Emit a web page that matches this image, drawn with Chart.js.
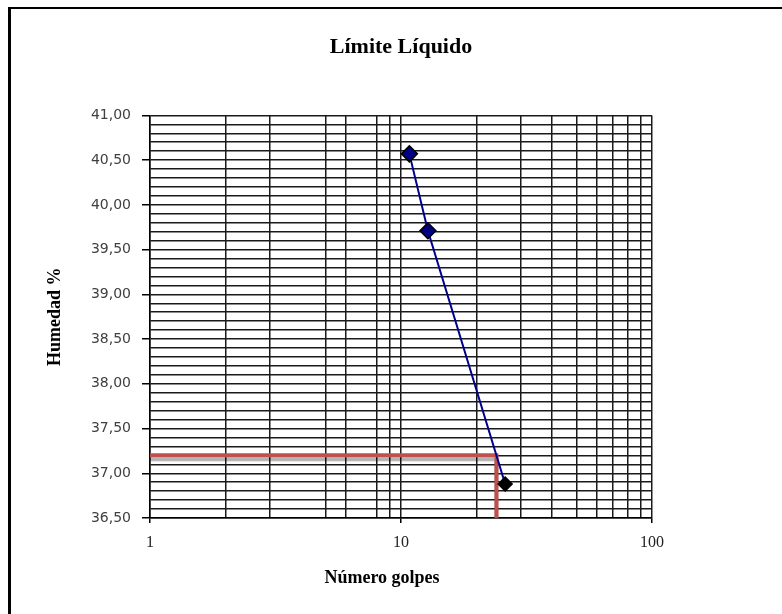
<!DOCTYPE html>
<html>
<head>
<meta charset="utf-8">
<script src="https://cdn.jsdelivr.net/npm/chart.js"></script>
<style>
  body { margin: 0; background: #fff; }
  #wrap { position: relative; width: 782px; height: 614px; overflow: hidden; }
  #frame { position: absolute; left: 8px; top: 7px; width: 900px; height: 700px; border-left: 3px solid #000; border-top: 2px solid #000; }
  canvas { position: absolute; left: 0; top: 0; }
</style>
</head>
<body>
<div id="wrap">
  <div id="frame"></div>
  <canvas id="myChart" width="782" height="614"></canvas>
</div>
<script>
// ensayo de limite liquido
const golpes = [10.8, 12.8, 26]
const humedad = [40.57, 39.71, 36.88]
const golpesLimite = 24
const humedadLimite = 37.2

const xTicks = [1, 2, 3, 5, 6, 8, 9, 10, 20, 30, 40, 50, 60, 70, 80, 90, 100]
const xLabels = [1, 10, 100]
const yLabels = [36.5, 37, 37.5, 38, 38.5, 39, 39.5, 40, 40.5, 41]
const yMinorStep = 0.1
const xTitle = 'Número golpes'

// sombra gris de la linea roja
const lineShadow = {
    id: 'lineShadow',
    beforeDatasetDraw(chart, args) {
        if (args.index !== 1) return
        const ctx = chart.ctx
        ctx.save()
        ctx.shadowColor = 'rgba(0,0,0,0.3)'
        ctx.shadowOffsetY = 4
        ctx.shadowBlur = 1
    },
    afterDatasetDraw(chart, args) {
        if (args.index === 1) chart.ctx.restore()
    }
}

// titulo del eje x, un poco a la izquierda como en excel
const xTitlePlugin = {
    id: 'xTitlePlugin',
    afterDraw(chart) {
        const { ctx, chartArea } = chart
        ctx.save()
        ctx.font = 'bold 18px "Liberation Serif"'
        ctx.fillStyle = '#000'
        ctx.textAlign = 'center'
        ctx.textBaseline = 'middle'
        ctx.fillText(xTitle, (chartArea.left + chartArea.right) / 2 - 19, chartArea.bottom + 60)
        ctx.restore()
    }
}

Chart.defaults.font.family = 'Liberation Serif'
Chart.defaults.color = '#000'

const ctx = document.getElementById('myChart')

new Chart(ctx, {
    type: 'scatter',
    data: {
        datasets: [{
            label: 'Humedad',
            data: golpes.map((g, i) => ({ x: g, y: humedad[i] })),
            showLine: true,
            borderColor: '#00008b',
            borderWidth: 2,
            pointStyle: 'rectRot',
            pointRadius: [8, 8, 7],
            pointBackgroundColor: ['#000080', '#000080', '#000'],
            pointBorderColor: '#000',
            pointBorderWidth: 1.5
        }, {
            label: 'Limite',
            data: [
                { x: xLabels[0], y: humedadLimite },
                { x: golpesLimite, y: humedadLimite },
                { x: golpesLimite, y: yLabels[0] }
            ],
            showLine: true,
            borderColor: '#c0504d',
            borderWidth: 4,
            pointRadius: 0
        }]
    },
    options: {
        responsive: false,
        animation: false,
        layout: { padding: { left: 0, right: 130, top: 0, bottom: 0 } },
        plugins: {
            legend: { display: false },
            tooltip: { enabled: false },
            title: {
                display: true,
                text: 'Límite Líquido',
                fullSize: false,
                font: { size: 22, weight: 'bold' },
                padding: { top: 34, bottom: 55 }
            }
        },
        scales: {
            x: {
                type: 'logarithmic',
                min: 1,
                max: 100,
                afterBuildTicks: scale => { scale.ticks = xTicks.map(v => ({ value: v })) },
                afterFit: scale => { scale.height = 96 },
                ticks: {
                    autoSkip: false,
                    maxRotation: 0,
                    padding: 10,
                    font: { size: 16 },
                    color: '#222',
                    callback: v => xLabels.includes(v) ? String(v) : ''
                },
                grid: {
                    color: '#1a1a1a',
                    lineWidth: 1.5,
                    tickLength: 5,
                    tickColor: c => c.tick && xLabels.includes(c.tick.value) ? '#000' : 'rgba(0,0,0,0)'
                },
                border: { color: '#000', width: 1.5 }
            },
            y: {
                min: yLabels[0],
                max: yLabels[yLabels.length - 1],
                afterBuildTicks: scale => {
                    const ticks = []
                    for (let v = yLabels[0]; v <= yLabels[yLabels.length - 1] + 1e-9; v += yMinorStep) {
                        ticks.push({ value: Math.round(v * 10) / 10 })
                    }
                    scale.ticks = ticks
                },
                afterFit: scale => { scale.width = 150 },
                ticks: {
                    autoSkip: false,
                    padding: 11,
                    font: { family: 'DejaVu Sans', size: 14 },
                    color: '#404040',
                    callback: v => yLabels.includes(v) ? v.toFixed(2).replace('.', ',') : ''
                },
                grid: {
                    color: '#1a1a1a',
                    lineWidth: 1.5,
                    tickLength: 8,
                    tickColor: c => c.tick && yLabels.includes(c.tick.value) ? '#000' : 'rgba(0,0,0,0)'
                },
                border: { color: '#000', width: 1.5 },
                title: {
                    display: true,
                    text: 'Humedad %',
                    font: { size: 18, weight: 'bold' },
                    padding: 45
                }
            }
        }
    },
    plugins: [lineShadow, xTitlePlugin]
})
</script>
</body>
</html>
